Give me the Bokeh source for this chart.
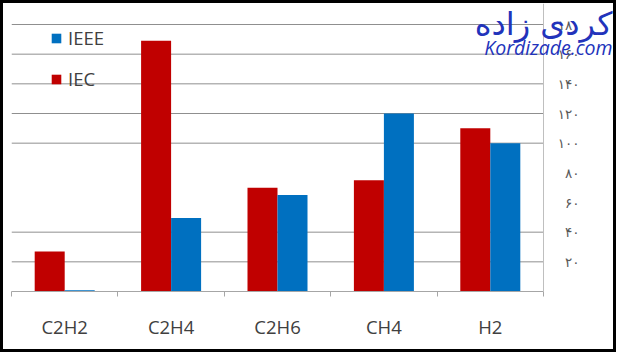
from bokeh.plotting import figure
from bokeh.models import (Range1d, LinearAxis, FixedTicker, Legend, LegendItem, Label,
                          ColumnDataSource)
from bokeh.transform import dodge
from bokeh.embed import file_html
from bokeh.resources import INLINE

# ---- data ----
categories = ["C2H2", "C2H4", "C2H6", "CH4", "H2"]
iec = [27, 169, 70, 75, 110]
ieee = [0.8, 49.5, 65, 120, 100]
y_ticks = [0, 20, 40, 60, 80, 100, 120, 140, 160, 180]
y_tick_labels = ["۰", "۲۰", "۴۰", "۶۰", "۸۰", "۱۰۰", "۱۲۰", "۱۴۰", "۱۶۰", "۱۸۰"]
grid_ticks = [20, 40, 100, 120, 140, 160, 180]
series_names = ["IEEE", "IEC"]
watermark_fa = "کردی زاده"
watermark_en = "Kordizade.com"

IEC_COLOR = "#c00000"
IEEE_COLOR = "#0070c0"
GRID_COLOR = "#8f8f8f"
AXIS_COLOR = "#a6a6a6"
TEXT_COLOR = "#404040"
WM_COLOR = "#2233bb"

n = len(categories)
xs = [i + 0.5 for i in range(n)]
src = ColumnDataSource(dict(x=xs, cat=categories, iec=iec, ieee=ieee))

W, H, B = 616, 352, 3            # figure size and css border
mb_left, mb_right, mb_top, mb_bottom = 8, 0, 0, 64
frame_w = W - mb_left - mb_right
frame_h = H - mb_top - mb_bottom
cat_px = 106.4                   # pixel width of one category slot
top_gap = 21                     # pixels between frame top and the top gridline
x_end = frame_w / cat_px
y_end = y_ticks[-1] * frame_h / (frame_h - top_gap)

p = figure(width=W, height=H, output_backend="svg", toolbar_location=None,
           x_range=Range1d(0, x_end), y_range=Range1d(0, y_end),
           y_axis_location=None,
           min_border_left=mb_left, min_border_right=mb_right, min_border_top=mb_top,
           min_border_bottom=mb_bottom, outline_line_color=None,
           background_fill_color="white", border_fill_color="white")
p.styles = {"border": f"{B}px solid black", "box-sizing": "border-box"}

p.xgrid.visible = False
p.ygrid.visible = False

# horizontal gridlines spanning the category area only
p.segment(x0=0, x1=n, y0=grid_ticks, y1=grid_ticks, line_color=GRID_COLOR,
          line_width=1, level="underlay")

# bottom axis: labels at centres, ticks at category boundaries
xa = p.xaxis[0]
xa.bounds = (0, n)
xa.ticker = FixedTicker(ticks=xs, minor_ticks=list(range(n + 1)))
xa.major_label_overrides = {x: c for x, c in zip(xs, categories)}
xa.major_tick_out = 0
xa.major_tick_in = 0
xa.minor_tick_out = 5
xa.minor_tick_in = 0
xa.minor_tick_line_color = AXIS_COLOR
xa.axis_line_color = AXIS_COLOR
xa.major_label_text_font = "Open Sans"
xa.major_label_text_font_size = "18.5px"
xa.major_label_text_color = TEXT_COLOR
xa.major_label_standoff = 17

# value axis at the right end of the category area, labels in Persian digits
ya = LinearAxis(ticker=FixedTicker(ticks=y_ticks), fixed_location=n,
                major_label_overrides={t: l for t, l in zip(y_ticks, y_tick_labels)})
ya.axis_line_color = "#bfbfbf"
ya.major_tick_out = 0
ya.major_tick_in = 0
ya.minor_tick_line_color = None
ya.major_label_text_font = "DejaVu Sans"
ya.major_label_text_font_size = "13.5px"
ya.major_label_text_color = "#595959"
ya.major_label_standoff = -36
p.add_layout(ya, "left")

w = 0.282
r_iec = p.vbar(x=dodge("x", -w / 2, range=p.x_range), top="iec", width=w,
               source=src, fill_color=IEC_COLOR, line_color=None)
r_ieee = p.vbar(x=dodge("x", w / 2, range=p.x_range), top="ieee", width=w,
                source=src, fill_color=IEEE_COLOR, line_color=None)

legend = Legend(items=[LegendItem(label=series_names[0], renderers=[r_ieee]),
                       LegendItem(label=series_names[1], renderers=[r_iec])],
                location=(39, 200), orientation="vertical",
                glyph_width=12, glyph_height=12, label_height=20, spacing=16,
                label_standoff=6, padding=0, margin=0,
                border_line_color=None, background_fill_alpha=0,
                label_text_font="Open Sans", label_text_font_size="18.5px",
                label_text_color=TEXT_COLOR)
p.add_layout(legend, "center")

wm1 = Label(x=601, y=268, x_units="screen", y_units="screen", text=watermark_fa,
            text_font="DejaVu Sans", text_font_size="32px", text_color=WM_COLOR,
            text_align="right", text_baseline="middle", level="overlay")
wm2 = Label(x=601, y=244, x_units="screen", y_units="screen", text=watermark_en,
            text_font="Open Sans", text_font_style="italic", text_font_size="19.5px",
            text_color=WM_COLOR, text_align="right", text_baseline="middle",
            level="overlay")
p.add_layout(wm1)
p.add_layout(wm2)

open("out.html", "w").write(file_html(p, INLINE))
